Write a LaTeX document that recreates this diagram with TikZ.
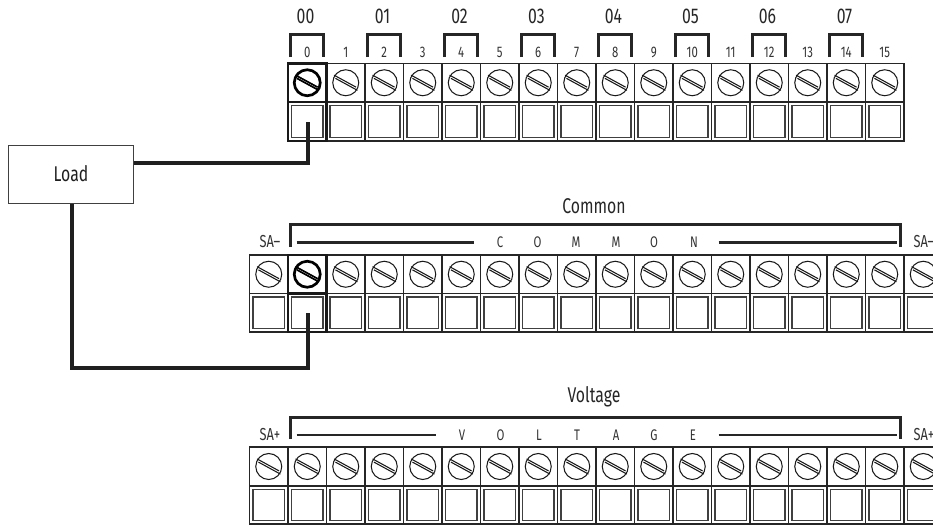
\documentclass[tikz,border=0pt]{standalone}
\usepackage{fontspec}
\setmainfont[FakeStretch=0.74]{Fira Sans}
\usetikzlibrary{calc}
\tikzset{
  cellbox/.style={draw=black!85,line width=0.9pt},
  inner/.style={draw=black!75,line width=1.1pt},
  screwc/.style={draw=black!90,line width=0.8pt},
  hot/.style={draw=black!90,line width=2pt},
  wire/.style={draw=black!88,line width=3pt,line join=miter},
  brk/.style={draw=black!85,line width=1.9pt},
  lab/.style={inner sep=0pt,font=\fontsize{16}{16}\selectfont,text=black!85},
  lab2/.style={inner sep=0pt,font=\fontsize{16}{16}\selectfont,text=black!85},
  lab3/.style={inner sep=0pt,font=\fontsize{11.5}{12}\selectfont,text=black!80},
  lab4/.style={inner sep=0pt,font=\fontsize{13}{13}\selectfont,text=black!80},
  loadbox/.style={draw=black!75,line width=0.9pt,fill=white,minimum width=93.75pt,minimum height=44pt,inner sep=0pt,font=\fontsize{16}{16}\selectfont,text=black!88},
}
\newcommand{\screwlines}[2]{%
  \draw[#2] ($(#1)+(-11.7,-7.6)$) -- ($(#1)+(10.3,4.4)$);
  \draw[#2] ($(#1)+(-10.3,-4.4)$) -- ($(#1)+(11.7,7.6)$);
}
\newcommand{\termcell}[5]{%
  \coordinate (#1s) at ({#2+19.25},{(#3+#4)/2});
  \draw[cellbox] ({#2},#3) rectangle ({#2+38.5},#5);
  \draw[cellbox] ({#2},#4) -- ({#2+38.5},#4);
  \draw[inner] ({#2+3.5},{#4+3.5}) rectangle ({#2+35},{#5-3.5});
  \draw[screwc] (#1s) circle (13);
  \screwlines{#1s}{screwc}
}
\begin{document}
\begin{tikzpicture}[x=0.75pt,y=-0.75pt]
\useasboundingbox (0,0) rectangle (933,525);
\begin{scope}
\clip (0,0) rectangle (933,525);
% row 1
\foreach \i in {0,...,15}{
  \pgfmathsetmacro{\xx}{288+38.5*\i}
  \termcell{a\i}{\xx}{63.5}{102}{141}
  \node[lab3] at ({\xx+19.25},52) {\i};
}
% row 2
\foreach \i in {0,...,17}{
  \pgfmathsetmacro{\xx}{249.5+38.5*\i}
  \termcell{b\i}{\xx}{255}{293.5}{332}
}
% row 3
\foreach \i in {0,...,17}{
  \pgfmathsetmacro{\xx}{249.5+38.5*\i}
  \termcell{c\i}{\xx}{447}{486}{524}
}
% brackets and group labels row 1
\foreach \i/\t in {0/00,1/01,2/02,3/03,4/04,5/05,6/06,7/07}{
  \pgfmathsetmacro{\xx}{290.5+77*\i}
  \draw[brk] ({\xx},57) -- ({\xx},34.3) -- ({\xx+33},34.3) -- ({\xx+33},57);
  \node[lab] at ({\xx+15},16) {\t};
}
% row 2 brackets
\draw[brk] (290.7,247) -- (290.7,224.3) -- (900.3,224.3) -- (900.3,247);
\draw[brk] (296.7,242.3) -- (474,242.3);
\draw[brk] (718.7,242.3) -- (897,242.3);
\foreach \x/\t in {500/C,537.5/O,576/M,616/M,654/O,694/N}{\node[lab3] at (\x,241.8) {\t};}
\node[lab2] at (594,206) {Common};
\node[lab4] at (270,242) {SA–};
\node[lab4] at (924,242) {SA–};
% row 3 brackets
\draw[brk] (290.7,439) -- (290.7,417.3) -- (900.3,417.3) -- (900.3,439);
\draw[brk] (296.7,435) -- (436,435);
\draw[brk] (718.7,435) -- (897,435);
\foreach \x/\t in {462/V,500.5/O,539/L,577/T,616/A,654/G,693/E}{\node[lab3] at (\x,435) {\t};}
\node[lab2] at (594,397) {Voltage};
\node[lab4] at (270,435) {SA+};
\node[lab4] at (924,435) {SA+};
% highlighted cells
\draw[hot] (288,63.5) rectangle (326.5,141);
\draw[hot] (288,102) -- (326.5,102);
\draw[hot] (288,255) rectangle (326.5,332);
\draw[hot] (288,293.5) -- (326.5,293.5);
\draw[line width=2pt] (a0s) circle (13);
\screwlines{a0s}{line width=1.2pt}
\draw[line width=2pt] (b1s) circle (13);
\screwlines{b1s}{line width=1.2pt}
% load and wires
\node[loadbox] (load) at (71,174.5) {\raisebox{1.3pt}{Load}};
\coordinate (wa) at (307.5,122);
\coordinate (wb) at (307.5,313);
\draw[wire] (load.east|-0,162.5) -- (307.5,162.5) -- (wa);
\draw[wire] (load.south-|71.5,0) -- (71.5,368) -- (307.5,368) -- (wb);
\end{scope}
\end{tikzpicture}
\end{document}
